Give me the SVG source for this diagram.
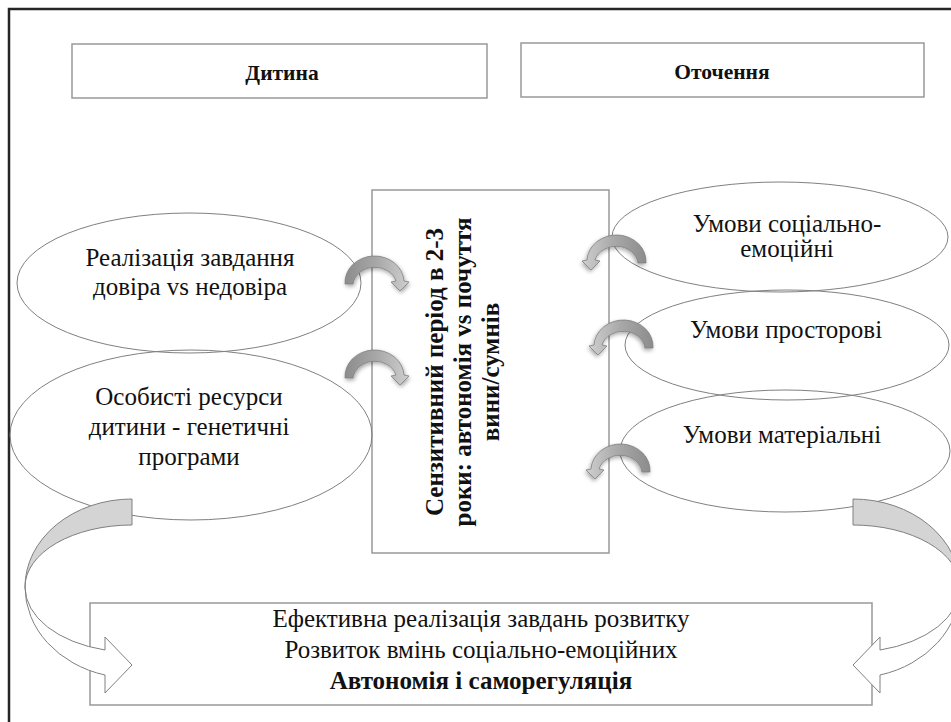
<svg xmlns="http://www.w3.org/2000/svg" width="951" height="722" viewBox="0 0 951 722">
<defs>
<linearGradient id="ag" x1="0" y1="0" x2="1" y2="0">
<stop offset="0" stop-color="#8c8c8c"/>
<stop offset="0.5" stop-color="#a8a8a8"/>
<stop offset="1" stop-color="#cfcfcf"/>
</linearGradient>
<filter id="sh" x="-30%" y="-30%" width="160%" height="170%">
<feGaussianBlur in="SourceAlpha" stdDeviation="2"/>
<feOffset dx="1" dy="2" result="b"/>
<feComponentTransfer><feFuncA type="linear" slope="0.35"/></feComponentTransfer>
<feMerge><feMergeNode/><feMergeNode in="SourceGraphic"/></feMerge>
</filter>
<path id="sa" d="M-29,0 A29,26 0 0 1 30,-3 L35,-2 L26,7 L17,-2 L22,-3 A22,19 0 0 0 -21,0 Z" fill="url(#ag)" stroke="#7f7f7f" stroke-width="0.8" filter="url(#sh)"/>
</defs>
<style>
.box{fill:#fff;stroke:#999;stroke-width:1.5}
.ell{fill:none;stroke:#808080;stroke-width:1}
.t{font-family:"Liberation Serif","Times New Roman",serif;font-size:25px;fill:#111;text-anchor:middle}
.b{font-weight:bold}
.h{font-size:21.5px}
.big{stroke:#808080;stroke-width:1}
</style>
<rect x="9" y="9" width="960" height="730" fill="#fff" stroke="#262626" stroke-width="2.5"/>

<g id="child-header">
<rect class="box" x="72" y="44" width="415" height="54"/>
<text class="t b h" x="282" y="80">Дитина</text>
</g>
<g id="env-header">
<rect class="box" x="521" y="43" width="403" height="54"/>
<text class="t b h" x="722" y="79">Оточення</text>
</g>

<g id="sensitive">
<rect class="box" x="372" y="190" width="237" height="363"/>
<g class="t b">
<text transform="translate(443,372) rotate(-90)">Сензитивний період в 2-3</text>
<text transform="translate(471,372) rotate(-90)">роки: автономія vs почуття</text>
<text transform="translate(499,372) rotate(-90)">вини/сумнів</text>
</g>
</g>

<g id="task">
<ellipse class="ell" cx="189" cy="283" rx="172" ry="70"/>
<text class="t" x="190" y="266">Реалізація завдання</text>
<text class="t" x="190" y="295">довіра vs недовіра</text>
</g>
<g id="resources">
<ellipse class="ell" cx="191" cy="435" rx="181" ry="85"/>
<text class="t" x="189" y="405">Особисті ресурси</text>
<text class="t" x="189" y="435">дитини - генетичні</text>
<text class="t" x="189" y="465">програми</text>
</g>
<g id="social">
<ellipse class="ell" cx="780" cy="237" rx="168" ry="55"/>
<text class="t" x="787" y="232">Умови соціально-</text>
<text class="t" x="787" y="257">емоційні</text>
</g>
<g id="spatial">
<ellipse class="ell" cx="787" cy="345" rx="162" ry="55"/>
<text class="t" x="786" y="338">Умови просторові</text>
</g>
<g id="material">
<ellipse class="ell" cx="785" cy="451" rx="165" ry="61"/>
<text class="t" x="782" y="443">Умови матеріальні</text>
</g>

<g id="result">
<rect class="box" x="90" y="603" width="782" height="102"/>
<text class="t" x="481" y="627">Ефективна реалізація завдань розвитку</text>
<text class="t" x="481" y="658">Розвиток вмінь соціально-емоційних</text>
<text class="t b" x="481" y="689">Автономія і саморегуляція</text>
</g>

<g id="connectors">
<use href="#sa" transform="translate(374,284)"/>
<use href="#sa" transform="translate(374,378)"/>
<use href="#sa" transform="translate(617,263) scale(-1,1)"/>
<use href="#sa" transform="translate(624,348) scale(-1,1)"/>
<use href="#sa" transform="translate(621,472) scale(-1,1)"/>
<g id="big-left">
<path class="big" fill="#fff" d="M25,587 A107,91 0 0 0 105,675 L105,693 L132,665 L105,637 L105,650 A107,65 0 0 1 25,587 Z"/>
<path class="big" fill="#d4d4d4" d="M132,499 A107,88 0 0 0 25,587 A107,62 0 0 1 132,525 Z"/>
</g>
<g id="big-right" transform="translate(985,0) scale(-1,1)">
<path class="big" fill="#fff" d="M25,587 A107,91 0 0 0 105,675 L105,693 L132,665 L105,637 L105,650 A107,65 0 0 1 25,587 Z"/>
<path class="big" fill="#d4d4d4" d="M132,499 A107,88 0 0 0 25,587 A107,62 0 0 1 132,525 Z"/>
</g>
</g>
</svg>
